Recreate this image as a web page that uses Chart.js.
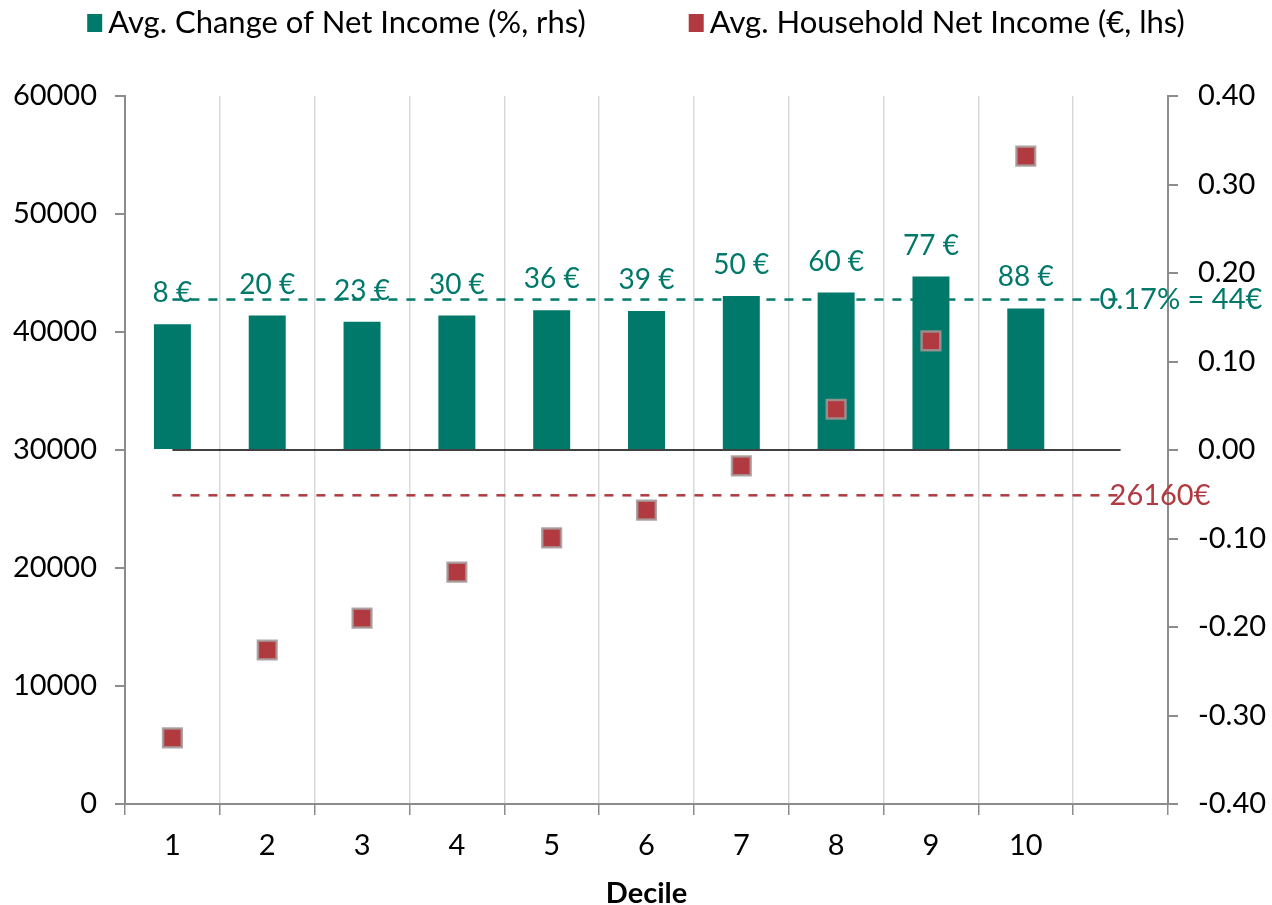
<!DOCTYPE html>
<html lang="en">
<head>
<meta charset="UTF-8">
<title>Net income by decile</title>
<script src="https://cdn.jsdelivr.net/npm/chart.js"></script>
<style>
  html, body { margin: 0; padding: 0; background: #fff; }
</style>
</head>
<body>
<canvas id="decileChart" width="1272" height="905"></canvas>
<script>
// data
var deciles = ['1', '2', '3', '4', '5', '6', '7', '8', '9', '10', ''];
var changePct = [0.142, 0.152, 0.145, 0.152, 0.158, 0.157, 0.174, 0.178, 0.196, 0.160];
var changeEuro = ['8 €', '20 €', '23 €', '30 €', '36 €', '39 €', '50 €', '60 €', '77 €', '88 €'];
var netIncome = [5600, 13050, 15750, 19650, 22550, 24900, 28650, 33450, 39250, 54900];
var avgChangePct = 0.17;
var avgChangeText = '0.17% = 44€';
var avgIncome = 26160;
var avgIncomeText = '26160€';
var leftAxis = { min: 0, max: 60000, step: 10000 };
var rightAxis = { min: -0.4, max: 0.4, step: 0.1 };

var teal = '#00786A';
var red = '#B03A40';
var fontName = 'Lato';

// reference lines behind the bars
var refLines = {
    id: 'refLines',
    beforeDatasetsDraw: function (chart) {
        var ctx = chart.ctx;
        var x = chart.scales.x, y = chart.scales.y, y2 = chart.scales.y2;
        var x0 = x.getPixelForValue(0);
        var x1 = x.getPixelForValue(deciles.length - 1);
        ctx.save();
        ctx.lineWidth = 2.5;
        ctx.setLineDash([9, 9]);
        ctx.strokeStyle = teal;
        var ty = y2.getPixelForValue(avgChangePct);
        ctx.beginPath(); ctx.moveTo(x0, ty); ctx.lineTo(x1, ty); ctx.stroke();
        ctx.strokeStyle = red;
        var ry = y.getPixelForValue(avgIncome);
        ctx.beginPath(); ctx.moveTo(x0, ry); ctx.lineTo(x1, ry); ctx.stroke();
        ctx.restore();
    },
    afterDatasetDraw: function (chart, args) {
        if (args.index !== 0) return;
        // zero line of the right axis, over the bar feet
        var ctx = chart.ctx;
        var x = chart.scales.x, y2 = chart.scales.y2;
        var zy = y2.getPixelForValue(0);
        ctx.save();
        ctx.strokeStyle = '#000';
        ctx.lineWidth = 1.5;
        ctx.beginPath();
        ctx.moveTo(x.getPixelForValue(0), zy);
        ctx.lineTo(x.getPixelForValue(deciles.length - 1), zy);
        ctx.stroke();
        ctx.restore();
    }
};

// value labels, line labels and legend
var textBits = {
    id: 'textBits',
    afterDraw: function (chart) {
        var ctx = chart.ctx;
        var x = chart.scales.x, y = chart.scales.y, y2 = chart.scales.y2;
        ctx.save();
        ctx.textBaseline = 'middle';

        ctx.fillStyle = teal;
        ctx.textAlign = 'center';
        ctx.font = '28px ' + fontName;
        chart.getDatasetMeta(0).data.forEach(function (bar, i) {
            ctx.fillText(changeEuro[i], bar.x, bar.y - 31);
        });

        var xEnd = x.getPixelForValue(deciles.length - 1);
        ctx.textAlign = 'left';
        ctx.font = '29px ' + fontName;
        ctx.fillText(avgChangeText, xEnd - 21, y2.getPixelForValue(avgChangePct));
        ctx.fillStyle = red;
        ctx.fillText(avgIncomeText, xEnd - 11, y.getPixelForValue(avgIncome));

        // legend
        var items = [
            { text: 'Avg. Change of Net Income (%, rhs)', color: teal },
            { text: 'Avg. Household Net Income (€, lhs)', color: red }
        ];
        ctx.font = '31px ' + fontName;
        var box = 15, gapText = 6, gapItem = 103;
        var total = 0;
        items.forEach(function (it) { it.w = ctx.measureText(it.text).width; total += box + gapText + it.w; });
        total += gapItem;
        var cx = (chart.width - total) / 2;
        var ly = 23;
        items.forEach(function (it) {
            ctx.fillStyle = it.color;
            ctx.fillRect(cx, ly - 9, box, 18);
            ctx.fillStyle = '#000';
            ctx.fillText(it.text, cx + box + gapText, ly);
            cx += box + gapText + it.w + gapItem;
        });
        ctx.restore();
    }
};

var tickFont = { family: fontName, size: 29 };

new Chart(document.getElementById('decileChart'), {
    data: {
        labels: deciles,
        datasets: [{
            type: 'bar',
            label: 'Avg. Change of Net Income (%, rhs)',
            data: changePct,
            yAxisID: 'y2',
            backgroundColor: teal,
            categoryPercentage: 1,
            barPercentage: 0.39,
            order: 2
        }, {
            type: 'line',
            label: 'Avg. Household Net Income (€, lhs)',
            data: netIncome,
            yAxisID: 'y',
            showLine: false,
            pointStyle: 'rect',
            pointRadius: 13.2,
            pointBackgroundColor: red,
            pointBorderColor: 'rgba(165,150,150,0.85)',
            pointBorderWidth: 2.5,
            order: 1
        }]
    },
    options: {
        responsive: false,
        animation: false,
        layout: { padding: { top: 96, left: 0, right: 0, bottom: 0 } },
        plugins: {
            legend: { display: false },
            tooltip: { enabled: false }
        },
        scales: {
            x: {
                offset: true,
                grid: {
                    offset: true,
                    color: '#D9D9D9',
                    lineWidth: 1.5,
                    tickColor: '#8C8C8C',
                    tickLength: 11
                },
                border: { color: '#8C8C8C', width: 2 },
                ticks: { color: '#000', font: tickFont, padding: 13, maxRotation: 0 },
                title: {
                    display: true,
                    text: 'Decile',
                    color: '#000',
                    font: { family: fontName, size: 29, weight: 'bold' },
                    padding: { top: 0, bottom: -6 }
                },
                afterFit: function (scale) { scale.height = 101; }
            },
            y: {
                position: 'left',
                min: leftAxis.min,
                max: leftAxis.max,
                ticks: {
                    stepSize: leftAxis.step,
                    color: '#000',
                    font: tickFont,
                    padding: 18,
                    callback: function (v) { return String(v); }
                },
                grid: { drawOnChartArea: false, tickLength: 10, tickColor: '#8C8C8C', lineWidth: 2 },
                border: { color: '#8C8C8C', width: 2 },
                afterFit: function (scale) { scale.width = 125; }
            },
            y2: {
                position: 'right',
                min: rightAxis.min,
                max: rightAxis.max,
                ticks: {
                    stepSize: rightAxis.step,
                    color: '#000',
                    font: tickFont,
                    padding: 20,
                    callback: function (v) { return v.toFixed(2); }
                },
                grid: { drawOnChartArea: false, tickLength: 10, tickColor: '#8C8C8C', lineWidth: 2 },
                border: { color: '#8C8C8C', width: 2 },
                afterFit: function (scale) { scale.width = 104; }
            }
        }
    },
    plugins: [refLines, textBits]
});
</script>
</body>
</html>
